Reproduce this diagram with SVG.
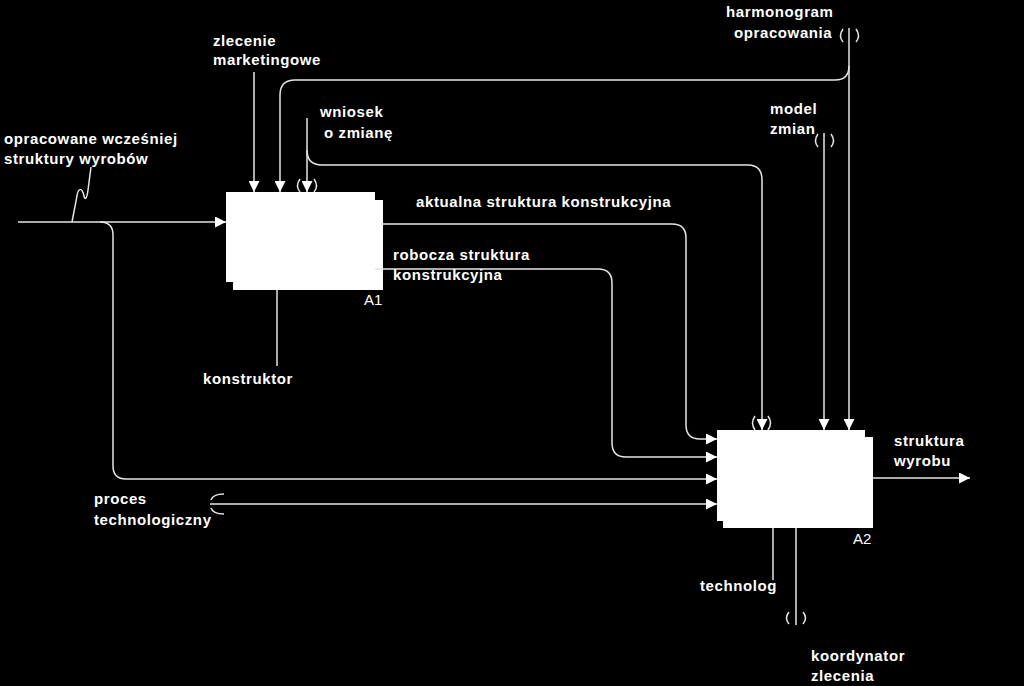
<svg xmlns="http://www.w3.org/2000/svg" width="1024" height="686" viewBox="0 0 1024 686">
<defs>
<marker id="ah" markerUnits="userSpaceOnUse" markerWidth="11" markerHeight="11" refX="11" refY="5.5" orient="auto">
<path d="M0,0 L11,5.5 L0,11 z" fill="#ffffff"/>
</marker>
<style>
.c{fill:none;stroke:#e6e6e6;stroke-width:1.5}
.a{marker-end:url(#ah)}
.t{font-family:"Liberation Sans",Arial,sans-serif;font-weight:bold;font-size:15px;letter-spacing:0.6px;fill:#ffffff}
.n{font-family:"Liberation Sans",Arial,sans-serif;font-size:15px;fill:#ffffff}
.b{fill:#ffffff}
</style>
</defs>
<rect width="1024" height="686" fill="#000000"/>
<g id="A1">
<rect class="b" x="233" y="200" width="150" height="90"/>
<rect class="b" x="226" y="192" width="149" height="90"/>
<text class="n" x="364" y="305">A1</text>
</g>
<g id="A2">
<rect class="b" x="723" y="437" width="150" height="91"/>
<rect class="b" x="717" y="430" width="148" height="91"/>
<text class="n" x="853" y="544">A2</text>
</g>
<g id="connectors">
<path class="c a" d="M18,222 H226"/>
<path class="c a" d="M100,222 Q113,222 113,235 V466 Q113,479 126,479 H717"/>
<path class="c" d="M72,222 L77,196 C78,188 82,187 84,196 C85,201 87,198 88,190 L91,167"/>
<path class="c a" d="M254,72 V192"/>
<path class="c a" d="M849,28 V430"/>
<path class="c a" d="M849,66 Q849,80 835,80 H295 Q280,80 280,95 V192"/>
<path class="c a" d="M307,118 V192"/>
<path class="c a" d="M307,150 Q307,165 322,165 H748 Q762,165 762,180 V430"/>
<path class="c a" d="M824,133 V430"/>
<path class="c a" d="M383,224 H672 Q686,224 686,238 V425 Q686,439 700,439 H717"/>
<path class="c a" d="M375,269 H598 Q612,269 612,283 V443 Q612,457 626,457 H717"/>
<path class="c a" d="M210,504 H717"/>
<path class="c a" d="M873,478 H970"/>
<path class="c" d="M277,290 V366"/>
<path class="c" d="M773,528 V580"/>
<path class="c" d="M796,528 V625"/>
<path class="c" d="M300,179 Q295,186 300,192 M314,179 Q319,186 314,192"/>
<path class="c" d="M755,416 Q750,423 755,430 M768,416 Q773,423 768,430"/>
<path class="c" d="M843,29 Q838,36 843,42 M856,29 Q861,36 856,42"/>
<path class="c" d="M818,134 Q813,141 818,147 M831,134 Q836,141 831,147"/>
<path class="c" d="M789,612 Q784,618 789,624 M803,612 Q808,618 803,624"/>
<path class="c" d="M211,500 Q213,494 224,494 M211,508 Q213,514 224,514"/>
</g>
<g id="labels">
<text class="t" x="4" y="144">opracowane wcześniej</text>
<text class="t" x="4" y="164">struktury wyrobów</text>
<text class="t" x="213" y="46">zlecenie</text>
<text class="t" x="213" y="65">marketingowe</text>
<text class="t" x="320" y="117">wniosek</text>
<text class="t" x="324" y="138">o zmianę</text>
<text class="t" x="726" y="17">harmonogram</text>
<text class="t" x="734" y="38">opracowania</text>
<text class="t" x="770" y="114">model</text>
<text class="t" x="770" y="134">zmian</text>
<text class="t" x="416" y="207">aktualna struktura konstrukcyjna</text>
<text class="t" x="393" y="260">robocza struktura</text>
<text class="t" x="393" y="280">konstrukcyjna</text>
<text class="t" x="203" y="384">konstruktor</text>
<text class="t" x="94" y="504">proces</text>
<text class="t" x="94" y="525">technologiczny</text>
<text class="t" x="894" y="446">struktura</text>
<text class="t" x="894" y="466">wyrobu</text>
<text class="t" x="700" y="591">technolog</text>
<text class="t" x="811" y="661">koordynator</text>
<text class="t" x="811" y="681">zlecenia</text>
</g>
</svg>
